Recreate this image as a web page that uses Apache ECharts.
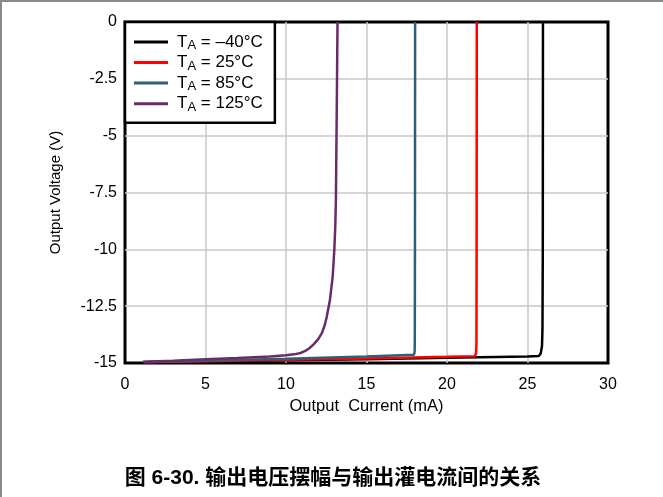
<!DOCTYPE html>
<html>
<head>
<meta charset="utf-8">
<script src="https://cdn.jsdelivr.net/npm/echarts@6/dist/echarts.min.js"></script>
<style>
html,body{margin:0;padding:0;background:#fff;}
#c{width:663px;height:497px;}
</style>
</head>
<body>
<div id="c"></div>
<script>
var seriesNames = ['TA = –40°C', 'TA = 25°C', 'TA = 85°C', 'TA = 125°C'];
var legendSuffix = [' = –40°C', ' = 25°C', ' = 85°C', ' = 125°C'];
var seriesColors = ['#000000', '#ff0000', '#2f5f78', '#6b2b69'];
var xTicks = { min: 0, max: 30, interval: 5 };
var yTicks = { min: -15, max: 0, interval: 2.5 };

var tempM40 = [[1.2,-14.97],[5,-14.93],[10,-14.88],[15,-14.83],[20,-14.77],[25,-14.71],[25.7,-14.69],[25.82,-14.58],[25.9,-14.25],[25.93,-13.5],[25.95,-10],[25.96,0]];
var temp25 = [[1.2,-14.97],[5,-14.92],[10,-14.86],[15,-14.8],[20,-14.73],[21.72,-14.7],[21.8,-14.6],[21.83,-14.2],[21.84,-10],[21.85,0]];
var temp85 = [[1.2,-14.96],[5,-14.9],[10,-14.81],[15,-14.71],[17.95,-14.64],[17.99,-14.5],[18.0,-14.0],[18.01,-10],[18.02,0]];
var temp125 = [[1.1,-14.94],[3,-14.9],[5,-14.84],[7,-14.78],[9,-14.71],[10,-14.66],[10.5,-14.62],[10.9,-14.56],[11.2,-14.47],[11.45,-14.35],[11.7,-14.19],[12.0,-13.95],[12.22,-13.7],[12.4,-13.35],[12.53,-12.97],[12.73,-12.23],[12.9,-11.2],[13.0,-10.03],[13.06,-9.0],[13.1,-7.83],[13.15,-4],[13.2,0]];
var allData = [tempM40, temp25, temp85, temp125];

var FONT = '"Liberation Sans", Arial, sans-serif';
var chart = echarts.init(document.getElementById('c'), null, { renderer: 'canvas' });

var series = allData.map(function (d, i) {
  return {
    name: seriesNames[i],
    type: 'line',
    data: d,
    symbol: 'none',
    smooth: false,
    clip: true,
    lineStyle: { color: seriesColors[i], width: 2.5 },
    itemStyle: { color: seriesColors[i] },
    z: 3 + i
  };
});

chart.setOption({
  animation: false,
  backgroundColor: '#ffffff',
  grid: {
    left: 125, top: 22, right: 55, bottom: 134,
    show: true, borderColor: '#000', borderWidth: 3, backgroundColor: 'transparent'
  },
  xAxis: {
    type: 'value', min: xTicks.min, max: xTicks.max, interval: xTicks.interval,
    name: 'Output  Current (mA)', nameLocation: 'middle', nameGap: 29,
    nameTextStyle: { fontFamily: FONT, fontSize: 16.5, color: '#000' },
    axisLine: { show: false }, axisTick: { show: false },
    axisLabel: { fontFamily: FONT, fontSize: 16, color: '#000', margin: 14 },
    splitLine: { show: true, showMinLine: false, showMaxLine: false, lineStyle: { color: '#c8c8c8', width: 1.5 } }
  },
  yAxis: {
    type: 'value', min: yTicks.min, max: yTicks.max, interval: yTicks.interval,
    name: 'Output Voltage (V)', nameLocation: 'middle', nameGap: 62, nameRotate: 90,
    nameTextStyle: { fontFamily: FONT, fontSize: 15, color: '#000' },
    axisLine: { show: false }, axisTick: { show: false },
    axisLabel: { fontFamily: FONT, fontSize: 16, color: '#000', margin: 8 },
    splitLine: { show: true, showMinLine: false, showMaxLine: false, lineStyle: { color: '#c8c8c8', width: 1.5 } }
  },
  legend: {
    orient: 'vertical', left: 125, top: 22,
    padding: [11.4, 12, 9, 9],
    itemWidth: 34, itemHeight: 20, itemGap: 2.1,
    icon: 'path://M0,0L34,0L34,3L0,3Z',
    backgroundColor: '#fff', borderColor: '#000', borderWidth: 2.5,
    z: 10,
    data: seriesNames,
    formatter: function (name) {
      var i = seriesNames.indexOf(name);
      return '{t|T}{s|A}{t|' + legendSuffix[i] + '}';
    },
    textStyle: {
      padding: [0, 0, 0, 4],
      rich: {
        t: { fontFamily: FONT, fontSize: 17, color: '#000', lineHeight: 20 },
        s: { fontFamily: FONT, fontSize: 13, color: '#000', lineHeight: 10, verticalAlign: 'bottom' }
      }
    }
  },
  graphic: [
    { type: 'line', shape: { x1: 0, y1: 1, x2: 663, y2: 1 }, style: { stroke: '#8a8a8a', lineWidth: 2 }, silent: true },
    { type: 'line', shape: { x1: 1, y1: 0, x2: 1, y2: 497 }, style: { stroke: '#8a8a8a', lineWidth: 2 }, silent: true },
    { type: 'text', x: 333, y: 478, style: {
        text: '图 6-30. 输出电压摆幅与输出灌电流间的关系',
        font: 'bold 21px "Liberation Sans", "Noto Sans CJK SC", sans-serif',
        fill: '#000', textAlign: 'center', textVerticalAlign: 'middle'
      } }
  ],
  series: series
});
</script>
</body>
</html>
